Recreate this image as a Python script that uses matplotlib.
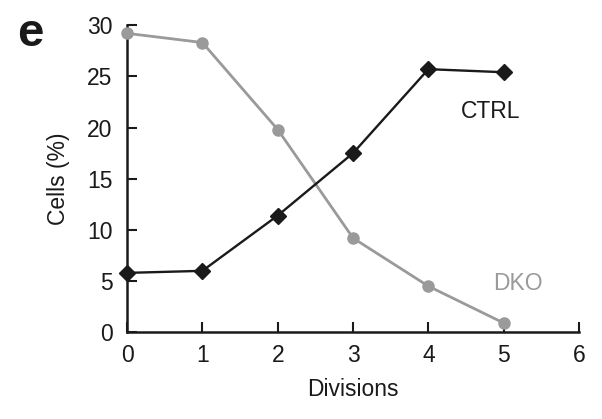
import matplotlib
matplotlib.use('Agg')
from matplotlib import pyplot as plt

divisions = [0, 1, 2, 3, 4, 5]
ctrl = [5.8, 6.0, 11.4, 17.5, 25.7, 25.4]
dko = [29.2, 28.3, 19.8, 9.2, 4.5, 0.9]
x_ticks = [0, 1, 2, 3, 4, 5, 6]
y_ticks = [0, 5, 10, 15, 20, 25, 30]

plt.rcParams['font.family'] = ['Liberation Sans', 'DejaVu Sans']

fig = plt.figure(figsize=(6.02, 4.19), dpi=100)
ax = fig.add_axes([0.211, 0.207, 0.751, 0.733])

gray = '#9a9a9a'
dark = '#1a1a1a'

ax.plot(divisions, dko, color=gray, lw=2.0, marker='o', markersize=8,
        clip_on=False, zorder=3)
ax.plot(divisions, ctrl, color=dark, lw=1.7, marker='D', markersize=8,
        clip_on=False, zorder=4)

ax.text(4.82, 21.6, 'CTRL', color=dark, fontsize=16.5, ha='center', va='center')
ax.text(5.19, 4.8, 'DKO', color=gray, fontsize=16.5, ha='center', va='center')

ax.set_xlim(0, 6)
ax.set_ylim(0, 30)
ax.set_xticks(x_ticks)
ax.set_yticks(y_ticks)
ax.tick_params(direction='in', length=7, width=1.5, labelsize=16.5, colors=dark)
ax.tick_params(axis='y', pad=10.5)
ax.tick_params(axis='x', pad=8.5)
for side in ['top', 'right']:
    ax.spines[side].set_visible(False)
for side in ['left', 'bottom']:
    ax.spines[side].set_linewidth(1.8)
    ax.spines[side].set_color(dark)

ax.set_xlabel('Divisions', fontsize=16.5, color=dark, labelpad=8)
ax.set_ylabel('Cells (%)', fontsize=16.5, color=dark, labelpad=12)

fig.text(0.05, 0.918, 'e', fontsize=34, fontweight='bold', color=dark,
         ha='center', va='center')

fig.savefig('out.png', dpi=100)
